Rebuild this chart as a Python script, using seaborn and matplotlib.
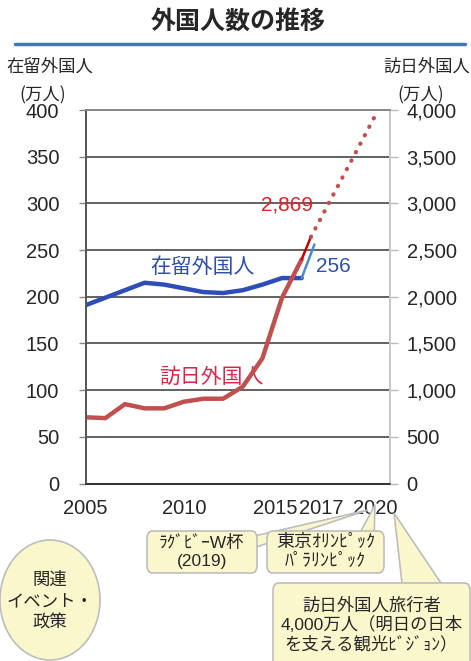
import matplotlib.pyplot as plt
import seaborn as sns
import pandas as pd
from matplotlib.patches import FancyBboxPatch, Ellipse, Polygon
from matplotlib.transforms import ScaledTranslation

# ---- データ ----
YEARS = [2005, 2006, 2007, 2008, 2009, 2010, 2011, 2012, 2013, 2014, 2015, 2016]
ZAIRYU = [191, 199, 207, 215, 213, 209, 205, 204, 207, 213, 220, 220]   # 万人 (左軸)
HOUNICHI = [709, 700, 850, 805, 805, 876, 908, 908, 1037, 1340, 1990, 2400]  # 万人 (右軸)

ZAIRYU_LAST_X = [2016, 2016.65]
ZAIRYU_LAST = [220, 256]
HOUNICHI_LAST_X = [2016, 2016.47]
HOUNICHI_LAST = [2400, 2640]
TARGET_X = [2016.47, 2019.85]
TARGET = [2640, 3980]

XTICK_LABELS = {2005: "2005", 2010: "2010", 2015: "2015", 2017: "2017", 2020: "2020"}
XTICK_SHIFT = {2015: -7, 2020: -5}   # px, Excel風に重なりを避ける
LEFT_TICKS = [0, 50, 100, 150, 200, 250, 300, 350, 400]
RIGHT_TICKS = [0, 500, 1000, 1500, 2000, 2500, 3000, 3500, 4000]

W, H = 471, 661
FONT = ["Liberation Sans", "Noto Sans CJK JP"]
JP = ["Noto Sans CJK JP", "DejaVu Sans"]
YELLOW = "#FBF7CD"
EDGE = "#BDBDBD"


def fx(px):
    return px / W


def fy(py):
    return 1 - py / H


sns.set_style("white")
plt.rcParams["font.family"] = FONT

fig = plt.figure(figsize=(W / 100, H / 100), dpi=100)
ax = fig.add_axes([fx(85.7), fy(483.5), (390 - 85.7) / W, (483.5 - 110) / H])
ax2 = ax.twinx()

# 在留外国人 (左軸)
df_z = pd.DataFrame({"year": YEARS, "value": ZAIRYU})
sns.lineplot(data=df_z, x="year", y="value", ax=ax, color="#2E4DB8", lw=3.2)
sns.lineplot(x=ZAIRYU_LAST_X, y=ZAIRYU_LAST, ax=ax, color="#4A8CC8", lw=1.8)

# 訪日外国人 (右軸)
df_h = pd.DataFrame({"year": YEARS, "value": HOUNICHI})
sns.lineplot(data=df_h, x="year", y="value", ax=ax2, color="#C0504D", lw=3.2)
sns.lineplot(x=HOUNICHI_LAST_X, y=HOUNICHI_LAST, ax=ax2, color="#C00000", lw=1.8)
ax2.plot(TARGET_X, TARGET, color="#C0504D", lw=3, ls=(0, (0.1, 2.2)),
         dash_capstyle="round")

ax.set_xlim(2005, 2020.5)
ax.set_ylim(0, 400)
ax2.set_ylim(0, 4000)
ax.set_xticks(range(2005, 2021))
ax.set_xticklabels([XTICK_LABELS.get(y, "") for y in range(2005, 2021)])
ax.set_yticks(LEFT_TICKS)
ax2.set_yticks(RIGHT_TICKS)
ax2.set_yticklabels([f"{v:,}" for v in RIGHT_TICKS])
ax.set_xlabel("")
ax.set_ylabel("")
ax2.set_ylabel("")

ax.grid(axis="y", color="#555555", lw=1.3)
ax.set_axisbelow(True)
ax.tick_params(axis="x", direction="out", length=6, width=1, color="#333333",
               labelsize=14.5, pad=5)
ax.tick_params(axis="y", direction="out", length=5, width=1, color="#888888",
               labelsize=14.5, pad=14)
ax2.tick_params(axis="y", direction="out", length=6, width=1, color="#BBBBBB",
                labelsize=14.5, pad=6)
for yr, lab in zip(range(2005, 2021), ax.get_xticklabels()):
    if yr in XTICK_SHIFT:
        lab.set_transform(lab.get_transform()
                          + ScaledTranslation(XTICK_SHIFT[yr] / 100, 0, fig.dpi_scale_trans))
for a in (ax, ax2):
    a.spines["left"].set_color("#555555")
    a.spines["bottom"].set_color("#333333")
    a.spines["top"].set_color("#888888")
    a.spines["right"].set_color("#C8C8C8")
    for s in a.spines.values():
        s.set_linewidth(1.2)

# 系列ラベル
ax.text(2010.95, 232, "在留外国人", color="#2F4FA8", fontsize=15, family=JP,
        ha="center", va="center")
ax.text(2017.6, 232, "256", color="#2F4FA8", fontsize=15, ha="center", va="center")
ax.text(2015.27, 298, "2,869", color="#E0202A", fontsize=15, ha="center", va="center")
ax.text(2011.4, 114, "訪日外国人", color="#D8284A", fontsize=15, family=JP,
        ha="center", va="center")

# タイトル
fig.text(fx(238), fy(22), "外国人数の推移", fontsize=18, fontweight="bold",
         family=JP, ha="center", va="center")
fig.add_artist(plt.Line2D([fx(15), fx(465)], [fy(44), fy(44)], color="#4472C4", lw=2.5))

# 軸タイトル
fig.text(fx(50), fy(67), "在留外国人", fontsize=12.5, family=JP, ha="center", va="center")
fig.text(fx(43), fy(95), "(万人)", fontsize=12.5, family=JP, ha="center", va="center")
fig.text(fx(427), fy(67), "訪日外国人", fontsize=12.5, family=JP, ha="center", va="center")
fig.text(fx(421), fy(95), "(万人)", fontsize=12.5, family=JP, ha="center", va="center")


# ---- 吹き出し ----
def callout(x0, y0, x1, y1, tip, base, text, size=12.5, ty=None):
    pts = [(fx(base[0][0]), fy(base[0][1])), (fx(tip[0]), fy(tip[1])),
           (fx(base[1][0]), fy(base[1][1]))]
    fig.add_artist(Polygon(pts, closed=True, fc=YELLOW, ec=EDGE, lw=1.2))
    fig.add_artist(FancyBboxPatch((fx(x0), fy(y1)), fx(x1) - fx(x0), fy(y0) - fy(y1),
                                  boxstyle="round,pad=0,rounding_size=0.012",
                                  fc=YELLOW, ec=EDGE, lw=1.2))
    if ty is None:
        ty = (y0 + y1) / 2
    fig.text(fx((x0 + x1) / 2), fy(ty), text, fontsize=size, family=FONT,
             ha="center", va="center", linespacing=1.2)


callout(147, 531, 257, 573, (368, 510), [(250, 537), (250, 549)],
        "ﾗｸﾞﾋﾞｰW杯\n(2019)")
callout(267, 531, 384, 573, (375, 505), [(356, 540), (374, 540)],
        "東京ｵﾘﾝﾋﾟｯｸ\nﾊﾟﾗﾘﾝﾋﾟｯｸ", size=13)
callout(273, 583, 470, 680, (394, 513), [(403, 592), (447, 592)],
        "訪日外国人旅行者\n4,000万人（明日の日本\nを支える観光ﾋﾞｼﾞｮﾝ）", size=12.5, ty=625)

fig.add_artist(Ellipse((fx(50), fy(600)), fx(100), 120 / H, fc=YELLOW, ec=EDGE, lw=1.2))
fig.text(fx(50), fy(601), "関連\nイベント・\n政策", fontsize=12.5, family=JP,
         ha="center", va="center", linespacing=1.25)

fig.savefig("out.png", dpi=100)
